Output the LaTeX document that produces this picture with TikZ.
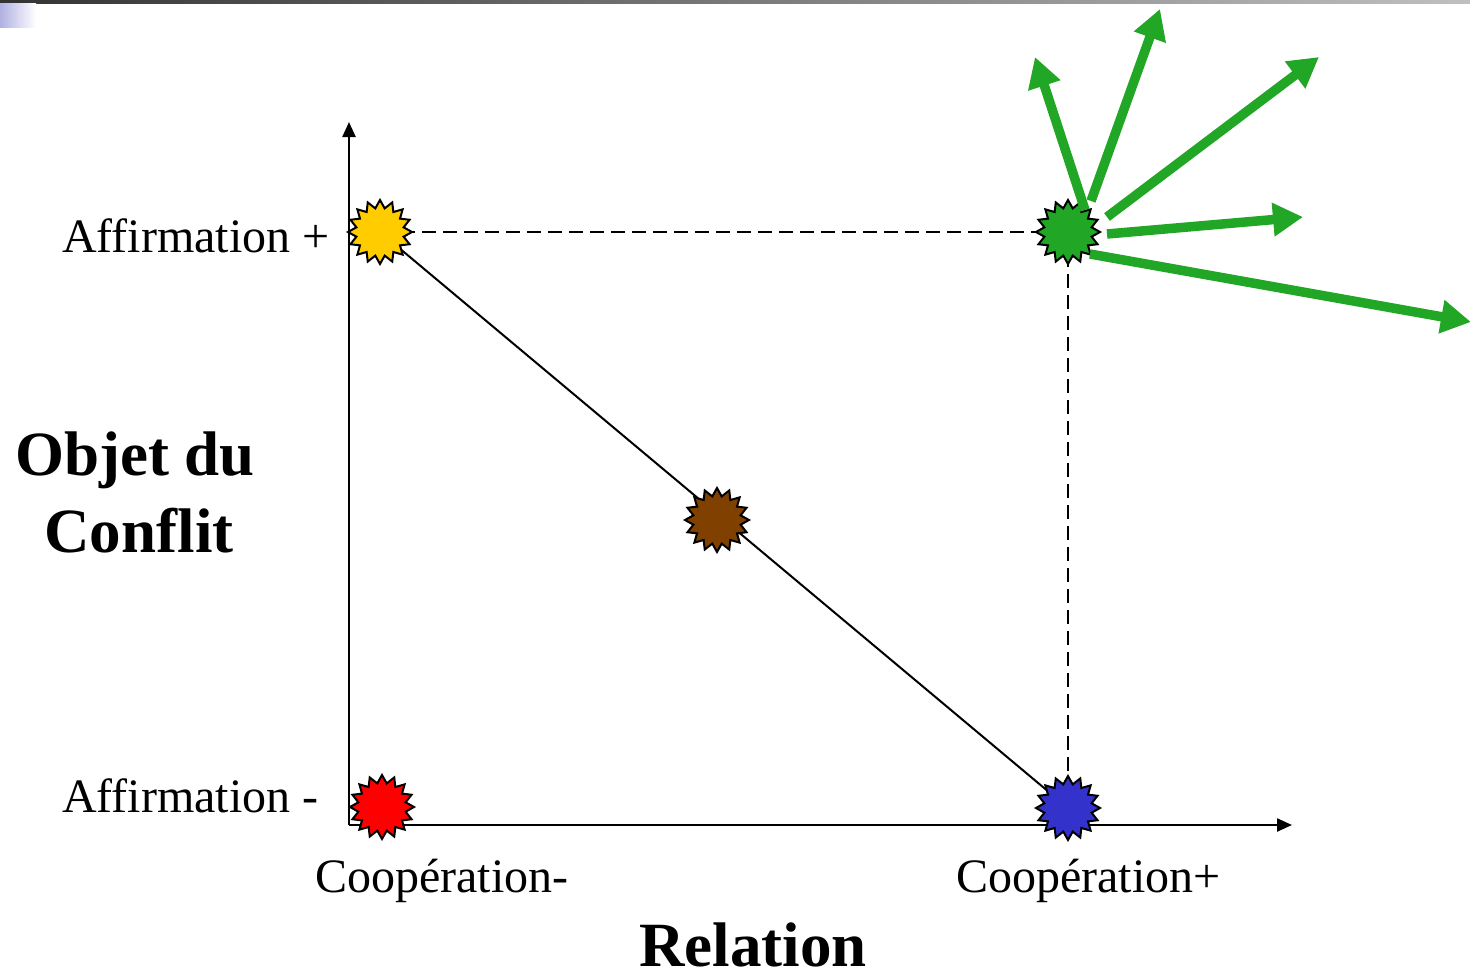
\documentclass[tikz,border=0pt]{standalone}
\usepackage{fontspec}
\setmainfont{Liberation Serif}
\usetikzlibrary{arrows.meta,shapes.geometric}
\pgfdeclarelayer{background}
\pgfsetlayers{background,main}
\definecolor{grn}{RGB}{34,166,38}
\definecolor{ylw}{RGB}{255,204,0}
\definecolor{brn}{RGB}{128,64,0}
\definecolor{blu}{RGB}{51,51,204}
\definecolor{lav}{RGB}{176,176,226}
\begin{document}
\begin{tikzpicture}[x=1pt,y=-1pt,
  burst/.style={star, star points=16, star point ratio=1.33, minimum size=64pt, inner sep=0pt, draw=black, line width=2pt},
  lbl/.style={font=\fontsize{48}{56}\selectfont, inner sep=0pt},
  blbl/.style={font=\fontsize{63}{70}\selectfont\bfseries, inner sep=0pt},
  axis/.style={line width=2.4pt, -{Triangle[length=15pt,width=13pt]}},
  guide/.style={line width=2pt, dash pattern=on 14pt off 7pt},
  conn/.style={line width=2pt},
  garrow/.style={grn, line width=9.5pt, -{Triangle[length=30pt,width=32pt]}}
]
\useasboundingbox (0,0) rectangle (1470,977);
% slide decoration
\shade[left color=black!80, right color=black!25] (0,0) rectangle (1470,3);
\shade[left color=lav, right color=white] (0,3) rectangle (36,27);

% axes
\coordinate (O) at (349,825);
\coordinate (Ytip) at (349,122);
\coordinate (Xtip) at (1292,825);
\draw[axis] (O) -- (Ytip);
\draw[axis] (O) -- (Xtip);

% stars
\node[burst, fill=ylw] (Y) at (380,232) {};
\node[burst, fill=grn] (G) at (1068,232) {};
\node[burst, fill=brn] (M) at (717,520) {};
\node[burst, fill=red] (R) at (382,807) {};
\node[burst, fill=blu] (B) at (1068,808) {};

\begin{pgfonlayer}{background}
\draw[guide] (Y.center) -- (G.center);
\draw[guide] (G.center) -- (B.center);
\draw[conn] (Y.center) -- (B.center);
\end{pgfonlayer}

% green arrows
\coordinate (s1) at (1085,210); \coordinate (t1) at (1035,57);
\coordinate (s2) at (1091,201); \coordinate (t2) at (1160,9);
\coordinate (s3) at (1107,217); \coordinate (t3) at (1319,57);
\coordinate (s4) at (1107,234); \coordinate (t4) at (1303,217);
\coordinate (s5) at (1090,254); \coordinate (t5) at (1471,322);
\draw[garrow] (s1) -- (t1);
\draw[garrow] (s2) -- (t2);
\draw[garrow] (s3) -- (t3);
\draw[garrow] (s4) -- (t4);
\draw[garrow] (s5) -- (t5);

% labels
\node[lbl, anchor=base west] (aplus) at (62,252) {Affirmation +};
\node[lbl, anchor=base west] (amin) at (62,812) {Affirmation -};
\node[lbl, anchor=base west] (cmin) at (315,892) {Coopération-};
\node[lbl, anchor=base west] (cplus) at (956,892) {Coopération+};
\node[blbl, anchor=base] (obj1) at (135,475) {Objet du};
\node[blbl, anchor=base] (obj2) at (139,552) {Conflit};
\node[blbl, anchor=base] (rel) at (753,966) {Relation};
\end{tikzpicture}
\end{document}
